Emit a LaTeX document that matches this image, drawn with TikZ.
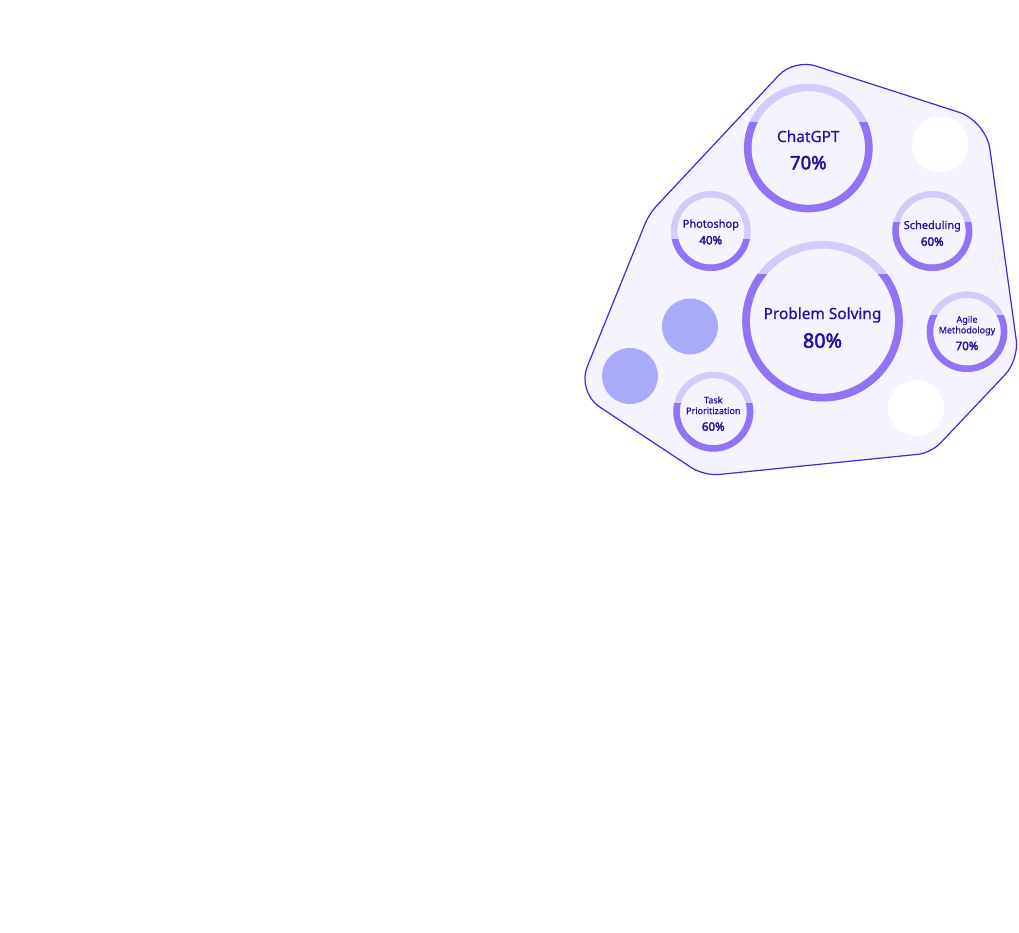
\documentclass[tikz,border=0pt]{standalone}
\usepackage{fontspec}
\setmainfont{Noto Sans}
\newfontfamily\lblfont[FakeBold=0.6]{Noto Sans}
\newfontfamily\pctfont[FakeBold=2.6]{Noto Sans}
\definecolor{polyfill}{HTML}{F5F3FF}
\definecolor{polyline}{HTML}{4B23D6}
\definecolor{ringlight}{HTML}{D1CDFB}
\definecolor{ringdark}{HTML}{9272F5}
\definecolor{inktext}{HTML}{2A0E9C}
\definecolor{blobblue}{HTML}{A9AAFA}
\tikzset{
  blob/.style={circle, inner sep=0pt, draw=none, minimum size=56pt},
  ringnode/.style={circle, inner sep=0pt, draw=none},
  lbl/.style={text=inktext, inner sep=0pt, anchor=base},
  pct/.style={text=inktext, inner sep=0pt, anchor=base},
}
% name, cx, cy, outer radius, fraction, thickness
\newcommand{\skillring}[6]{%
  \node[ringnode, minimum size={2*#4pt}] (#1) at (#2,#3) {};
  \draw[ringlight, line width=#6pt] (#1.center) circle[radius={#4-#6/2}];
  \begin{scope}
    \clip ({#2-#4-4},{#3+#4+4}) rectangle ({#2+#4+4},{#3+#4-2*#4*#5});
    \draw[ringdark, line width=#6pt] (#1.center) circle[radius={#4-#6/2}];
  \end{scope}
}
\begin{document}
\begin{tikzpicture}[x=1pt,y=-1pt]
\useasboundingbox[fill=white] (0,0) rectangle (1019,933);
% outline
\draw[fill=polyfill, draw=polyline, line width=1.2pt]
  (890,90) [rounded corners=28pt] -- (986,121)
  [rounded corners=20pt] -- (1019,360)
  [rounded corners=13pt] -- (931,453)
  [rounded corners=15pt] -- (704,476)
  [rounded corners=27pt] -- (577,392)
  [rounded corners=10pt] -- (649,214)
  [rounded corners=22pt] -- (794,59)
  [rounded corners=28pt] -- cycle;
% plain discs
\node[blob, fill=white] (w1) at (940,144.5) {};
\node[blob, fill=white] (w2) at (916,408) {};
\node[blob, fill=blobblue] (b1) at (690,326.5) {};
\node[blob, fill=blobblue] (b2) at (630,376) {};
% rings
\skillring{chat}{808.3}{148}{64.3}{0.70}{7.5}
\skillring{photo}{710.8}{231}{40}{0.40}{6.5}
\skillring{sched}{932.3}{231}{40}{0.60}{6.5}
\skillring{agile}{967}{331.7}{40.3}{0.70}{6.5}
\skillring{task}{713.3}{411.7}{40}{0.60}{6.5}
\skillring{prob}{822.5}{321.2}{80.3}{0.79}{7.7}
% labels
\node[lbl, font=\lblfont\fontsize{15.4}{18}\selectfont] (chat-t) at (808.3,142) {ChatGPT};
\node[pct, font=\pctfont\fontsize{18.5}{22}\selectfont] (chat-p) at (808.3,169.3) {70\%};
\node[lbl, font=\lblfont\fontsize{11}{13}\selectfont] (photo-t) at (710.8,227.7) {Photoshop};
\node[pct, font=\pctfont\fontsize{11.5}{13}\selectfont] (photo-p) at (710.8,244.3) {40\%};
\node[lbl, font=\lblfont\fontsize{11}{13}\selectfont] (sched-t) at (932.3,229) {Scheduling};
\node[pct, font=\pctfont\fontsize{11.5}{13}\selectfont] (sched-p) at (932.3,245.7) {60\%};
\node[lbl, font=\lblfont\fontsize{9}{11}\selectfont] (agile-t1) at (967,322.7) {Agile};
\node[lbl, font=\lblfont\fontsize{9}{11}\selectfont] (agile-t2) at (967,333.3) {Methodology};
\node[pct, font=\pctfont\fontsize{11.5}{13}\selectfont] (agile-p) at (967,350) {70\%};
\node[lbl, font=\lblfont\fontsize{9}{11}\selectfont] (task-t1) at (713.3,403.3) {Task};
\node[lbl, font=\lblfont\fontsize{9}{11}\selectfont] (task-t2) at (713.3,414) {Prioritization};
\node[pct, font=\pctfont\fontsize{11.5}{13}\selectfont] (task-p) at (713.3,430.7) {60\%};
\node[lbl, font=\lblfont\fontsize{15.4}{18}\selectfont] (prob-t) at (822.5,319) {Problem Solving};
\node[pct, font=\pctfont\fontsize{19.8}{23}\selectfont] (prob-p) at (822.5,347.7) {80\%};
\end{tikzpicture}
\end{document}
